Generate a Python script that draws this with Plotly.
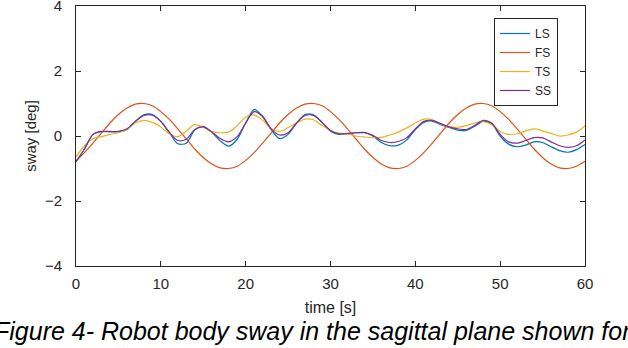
import plotly.graph_objects as go

t = list(range(0, 61))

LS = [-0.79, -0.40, 0.05, 0.13, 0.13, 0.13, 0.20, 0.45, 0.65, 0.66,
      0.45, 0.10, -0.24, -0.22, 0.18, 0.30, 0.12, -0.15, -0.31, -0.10,
      0.40, 0.82, 0.60, 0.20, -0.08, 0.05, 0.40, 0.66, 0.65, 0.42,
      0.15, 0.05, 0.07, 0.10, 0.11, 0.00, -0.20, -0.30, -0.28, -0.12,
      0.20, 0.42, 0.46, 0.35, 0.26, 0.18, 0.17, 0.30, 0.45, 0.38,
      0.00, -0.25, -0.33, -0.28, -0.18, -0.20, -0.33, -0.45, -0.50, -0.42,
      -0.26]

FS = [-0.76, -0.51, -0.22, 0.09, 0.40, 0.66, 0.86, 0.98, 1.00, 0.93,
      0.75, 0.51, 0.22, -0.09, -0.40, -0.66, -0.86, -0.98, -1.00, -0.93,
      -0.75, -0.51, -0.22, 0.09, 0.40, 0.66, 0.86, 0.98, 1.00, 0.93,
      0.75, 0.51, 0.22, -0.09, -0.40, -0.66, -0.86, -0.98, -1.00, -0.93,
      -0.75, -0.51, -0.22, 0.09, 0.40, 0.66, 0.86, 0.98, 1.00, 0.93,
      0.75, 0.51, 0.22, -0.09, -0.40, -0.66, -0.86, -0.98, -1.00, -0.93,
      -0.78]

TS = [-0.64, -0.30, -0.08, -0.02, 0.05, 0.10, 0.20, 0.40, 0.48, 0.42,
      0.28, 0.07, -0.02, 0.15, 0.35, 0.27, 0.14, 0.10, 0.12, 0.32,
      0.58, 0.65, 0.48, 0.22, 0.14, 0.26, 0.40, 0.52, 0.50, 0.32,
      0.17, 0.09, 0.06, 0.00, -0.03, -0.05, -0.04, 0.03, 0.12, 0.25,
      0.40, 0.52, 0.50, 0.37, 0.28, 0.27, 0.32, 0.40, 0.44, 0.35,
      0.14, 0.05, 0.07, 0.16, 0.22, 0.16, 0.08, 0.00, 0.03, 0.12,
      0.31]

SS = [-0.80, -0.40, 0.05, 0.14, 0.14, 0.14, 0.22, 0.45, 0.63, 0.64,
      0.45, 0.12, -0.14, -0.10, 0.20, 0.28, 0.12, -0.08, -0.18, -0.02,
      0.40, 0.75, 0.60, 0.22, 0.03, 0.10, 0.40, 0.63, 0.63, 0.42,
      0.17, 0.07, 0.08, 0.10, 0.10, 0.02, -0.14, -0.20, -0.17, -0.05,
      0.22, 0.45, 0.48, 0.38, 0.28, 0.22, 0.20, 0.33, 0.48, 0.40,
      0.05, -0.18, -0.22, -0.14, -0.05, -0.06, -0.18, -0.30, -0.35, -0.30,
      -0.12]

series = [("LS", LS, "#0072BD"), ("FS", FS, "#D95319"),
          ("TS", TS, "#EDB120"), ("SS", SS, "#7E2F8E")]

x_ticks = [0, 10, 20, 30, 40, 50, 60]
y_ticks = [-4, -2, 0, 2, 4]

caption = "Figure 4- Robot body sway in the sagittal plane shown for"

FONT = "Liberation Sans, Arial, sans-serif"
AX = "#262626"

fig = go.Figure()
for name, vals, col in series:
    fig.add_trace(go.Scatter(x=t, y=vals, name=name, mode="lines",
                             line=dict(color=col, width=1.2, shape="spline", smoothing=0.8)))

axis_common = dict(showgrid=False, zeroline=False, showline=True, linecolor=AX,
                   linewidth=1, mirror="ticks", ticks="inside", ticklen=5,
                   tickcolor=AX, automargin=False, ticklabeloverflow="allow",
                   tickfont=dict(family=FONT, size=15, color=AX))

fig.update_layout(
    width=628, height=348,
    margin=dict(l=76, r=43, t=6, b=82),
    paper_bgcolor="white", plot_bgcolor="white",
    font=dict(family=FONT, color=AX),
    xaxis=dict(range=[0, 60], tickvals=x_ticks, ticklabelstandoff=4,
               title=dict(text="time [s]", font=dict(size=16, color=AX), standoff=10),
               **axis_common),
    yaxis=dict(range=[-4, 4], tickvals=y_ticks, ticklabelstandoff=10,
               title=dict(text="sway [deg]", font=dict(size=15, color=AX), standoff=4),
               **axis_common),
    legend=dict(x=(494 - 76) / 509, y=(266 - 18) / 260, xanchor="left", yanchor="top",
                bordercolor=AX, borderwidth=1, bgcolor="white",
                font=dict(family=FONT, size=12, color=AX),
                itemwidth=30, tracegroupgap=0),
    showlegend=True,
    annotations=[dict(text="<i>" + caption + "</i>", xref="paper", yref="paper",
                      x=(313 - 76) / 509, y=(266 - 331) / 260, xanchor="center",
                      yanchor="middle", showarrow=False,
                      font=dict(family=FONT, size=25, color="black"))],
)

fig.write_html("out.html", config={"displayModeBar": False},
               post_script="document.body.style.margin='0px';document.body.style.overflow='hidden';")
